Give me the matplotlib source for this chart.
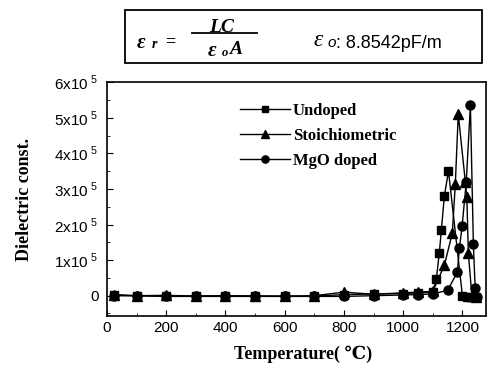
import numpy as np
import matplotlib.pyplot as plt
from matplotlib.patches import Rectangle
from matplotlib.ticker import MultipleLocator, FuncFormatter

plt.rcParams['mathtext.fontset'] = 'custom'
plt.rcParams['mathtext.rm'] = 'Liberation Sans'

# temperatures (C) and dielectric constant values
base_t = [25, 100, 200, 300, 400, 500, 600, 700, 800, 900, 1000, 1050, 1100]

undoped_t = base_t + [1112, 1122, 1129, 1139, 1153, 1200, 1215, 1230, 1245]
undoped_v = [0.01e5, 0.0, -0.01e5, -0.01e5, -0.01e5, -0.01e5, -0.01e5, -0.01e5, 0.03e5, 0.05e5, 0.06e5, 0.08e5, 0.1e5,
             0.47e5, 1.2e5, 1.84e5, 2.8e5, 3.5e5, 0.0, -0.05e5, -0.05e5, -0.05e5]

stoich_t = base_t + [1139, 1166, 1176, 1186, 1210, 1215, 1220, 1232, 1245]
stoich_v = [0.03e5, 0.0, 0.01e5, -0.01e5, 0.0, -0.01e5, -0.02e5, 0.0, 0.1e5, 0.04e5, 0.08e5, 0.1e5, 0.12e5,
            0.85e5, 1.76e5, 3.13e5, 5.1e5, 3.19e5, 2.77e5, 1.2e5, 0.0, -0.05e5]

mgo_t = base_t + [1150, 1183, 1190, 1199, 1213, 1227, 1237, 1243, 1250]
mgo_v = [0.0, 0.0, -0.02e5, -0.02e5, -0.02e5, -0.02e5, -0.02e5, -0.02e5, -0.02e5, 0.0, 0.02e5, 0.03e5, 0.05e5,
         0.15e5, 0.66e5, 1.35e5, 1.95e5, 3.2e5, 5.35e5, 1.45e5, 0.22e5, -0.03e5]

fig = plt.figure(figsize=(4.93, 3.70), dpi=100)
ax = fig.add_axes([0.217, 0.146, 0.769, 0.632])

ax.plot(undoped_t, undoped_v, '-s', color='black', lw=1.0, ms=6, label='Undoped')
ax.plot(stoich_t, stoich_v, '-^', color='black', lw=1.0, ms=7, label='Stoichiometric')
ax.plot(mgo_t, mgo_v, '-o', color='black', lw=1.0, ms=6.5, label='MgO doped')

ax.set_xlim(0, 1280)
ax.set_ylim(-0.57e5, 6e5)
ax.xaxis.set_major_locator(MultipleLocator(200))
ax.xaxis.set_minor_locator(MultipleLocator(100))
ax.yaxis.set_major_locator(MultipleLocator(1e5))
ax.yaxis.set_minor_locator(MultipleLocator(0.5e5))


def ylab(v, pos):
    n = int(round(v / 1e5))
    if n == 0:
        return '0'
    return r'%dx10$^{\ 5}$' % n


ax.yaxis.set_major_formatter(FuncFormatter(ylab))
ax.tick_params(which='both', direction='in', top=False, right=False)
ax.tick_params(which='major', length=4, labelsize=11)
ax.tick_params(which='minor', length=2)
ax.tick_params(axis='y', pad=6)
for lab in ax.get_xticklabels() + ax.get_yticklabels():
    lab.set_family('Liberation Sans')
for s in ax.spines.values():
    s.set_linewidth(1.2)

ax.set_xlabel('Temperature( \u2103)', family=['Liberation Serif', 'DejaVu Serif', 'Noto Sans CJK SC'],
              fontweight='bold', fontsize=13)
ax.set_ylabel('Dielectric const.', family='Liberation Serif', fontweight='bold', fontsize=13)
ax.xaxis.set_label_coords(0.517, -0.125)
ax.yaxis.set_label_coords(-0.195, 0.5)

ax.legend(loc='upper left', bbox_to_anchor=(0.31, 0.975), frameon=False,
          prop={'family': 'Liberation Serif', 'weight': 'bold', 'size': 12},
          handlelength=3.0, handletextpad=0.2, labelspacing=0.55, markerscale=0.8)

# formula box at the top
fig.patches.append(Rectangle((0.254, 0.83), 0.724, 0.143, transform=fig.transFigure,
                             fill=False, edgecolor='black', lw=1.3))
serif_bi = dict(family='Liberation Serif', style='italic', fontweight='bold')
fig.text(141 / 493, 1 - 43 / 370, '\u03b5', fontsize=15, ha='center', va='center', **serif_bi)
fig.text(154 / 493, 1 - 45 / 370, 'r', fontsize=10, ha='center', va='center', **serif_bi)
fig.text(170 / 493, 1 - 42 / 370, '=', family='Liberation Serif', fontweight='bold', fontsize=13, ha='center', va='center')
fig.text(222 / 493, 1 - 28 / 370, 'LC', fontsize=14, ha='center', va='center', **serif_bi)
fig.add_artist(plt.Line2D([192 / 493, 257 / 493], [1 - 33 / 370, 1 - 33 / 370], color='black', lw=1.3,
                          transform=fig.transFigure))
fig.text(212 / 493, 1 - 51 / 370, '\u03b5', fontsize=15, ha='center', va='center', **serif_bi)
fig.text(225 / 493, 1 - 53 / 370, 'o', fontsize=9, ha='center', va='center', **serif_bi)
fig.text(236 / 493, 1 - 50 / 370, 'A', fontsize=14, ha='center', va='center', **serif_bi)
fig.text(318 / 493, 1 - 41 / 370, '\u03b5', family='Liberation Serif', style='italic', fontsize=17,
         ha='center', va='center')
fig.text(327 / 493, 1 - 43 / 370, 'o', family='Liberation Sans', style='italic', fontsize=11, ha='left', va='center')
fig.text(336 / 493, 1 - 43 / 370, ': 8.8542pF/m', family='Liberation Sans', fontsize=13, ha='left', va='center')

fig.savefig('out.png', dpi=100)
